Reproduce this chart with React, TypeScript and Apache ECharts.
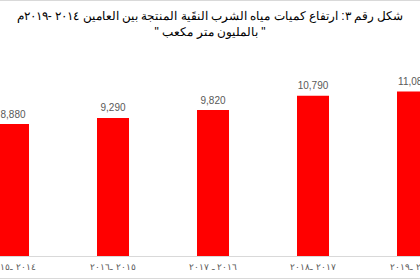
import React, { useEffect, useRef } from "react";
import * as echarts from "echarts";

const titleLines = [
  "شكل رقم ٣: ارتفاع كميات مياه الشرب النقَية المنتجة بين العامين ٢٠١٤ -٢٠١٩م",
  "\" بالمليون متر مكعب \"",
];
const categories = [
  "٢٠١٤ ـ٢٠١٥",
  "٢٠١٥ ـ٢٠١٦",
  "٢٠١٦ ـ ٢٠١٧",
  "٢٠١٧ ـ٢٠١٨",
  "٢٠١٨ ـ٢٠١٩",
];
const values = [8880, 9290, 9820, 10790, 11080];

export default function App() {
  const ref = useRef<HTMLDivElement>(null);
  useEffect(() => {
    if (!ref.current) return;
    const chart = echarts.init(ref.current, null, { renderer: "svg" });
    chart.setOption({
      animation: false,
      backgroundColor: "#ffffff",
      title: {
        text: titleLines.join("\n"),
        left: "center",
        top: 3,
        textStyle: {
          fontFamily: "Liberation Sans",
          fontSize: 12,
          fontWeight: "normal",
          color: "#000000",
          lineHeight: 16,
        },
      },
      grid: {
        left: -37,
        top: 48,
        width: 500,
        bottom: 24,
        containLabel: false,
        outerBoundsMode: "none",
      },
      xAxis: {
        type: "category",
        data: categories,
        axisLine: { show: true, lineStyle: { color: "#d9d9d9", width: 1 } },
        axisTick: { show: false },
        axisLabel: {
          interval: 0,
          margin: 6,
          fontFamily: "Liberation Sans",
          fontSize: 9,
          color: "#595959",
        },
      },
      yAxis: {
        type: "value",
        min: 0,
        max: 14000,
        show: false,
        splitLine: { show: false },
      },
      series: [
        {
          type: "bar",
          data: values,
          barWidth: 32,
          itemStyle: { color: "#ff0000" },
          label: {
            show: true,
            position: "top",
            distance: 5,
            fontFamily: "Liberation Sans",
            fontSize: 10,
            color: "#595959",
            formatter: (p: any) => Number(p.value).toLocaleString("en-US"),
          },
        },
      ],
      graphic: [
        {
          type: "line",
          shape: { x1: 0, y1: 0.5, x2: 420, y2: 0.5 },
          style: { stroke: "#d9d9d9", lineWidth: 1 },
        },
        {
          type: "line",
          shape: { x1: 0, y1: 278.5, x2: 420, y2: 278.5 },
          style: { stroke: "#d9d9d9", lineWidth: 1 },
        },
      ],
    });
    return () => chart.dispose();
  }, []);
  return (
    <div
      ref={ref}
      style={{ position: "fixed", left: 0, top: 0, width: 420, height: 280 }}
    />
  );
}
